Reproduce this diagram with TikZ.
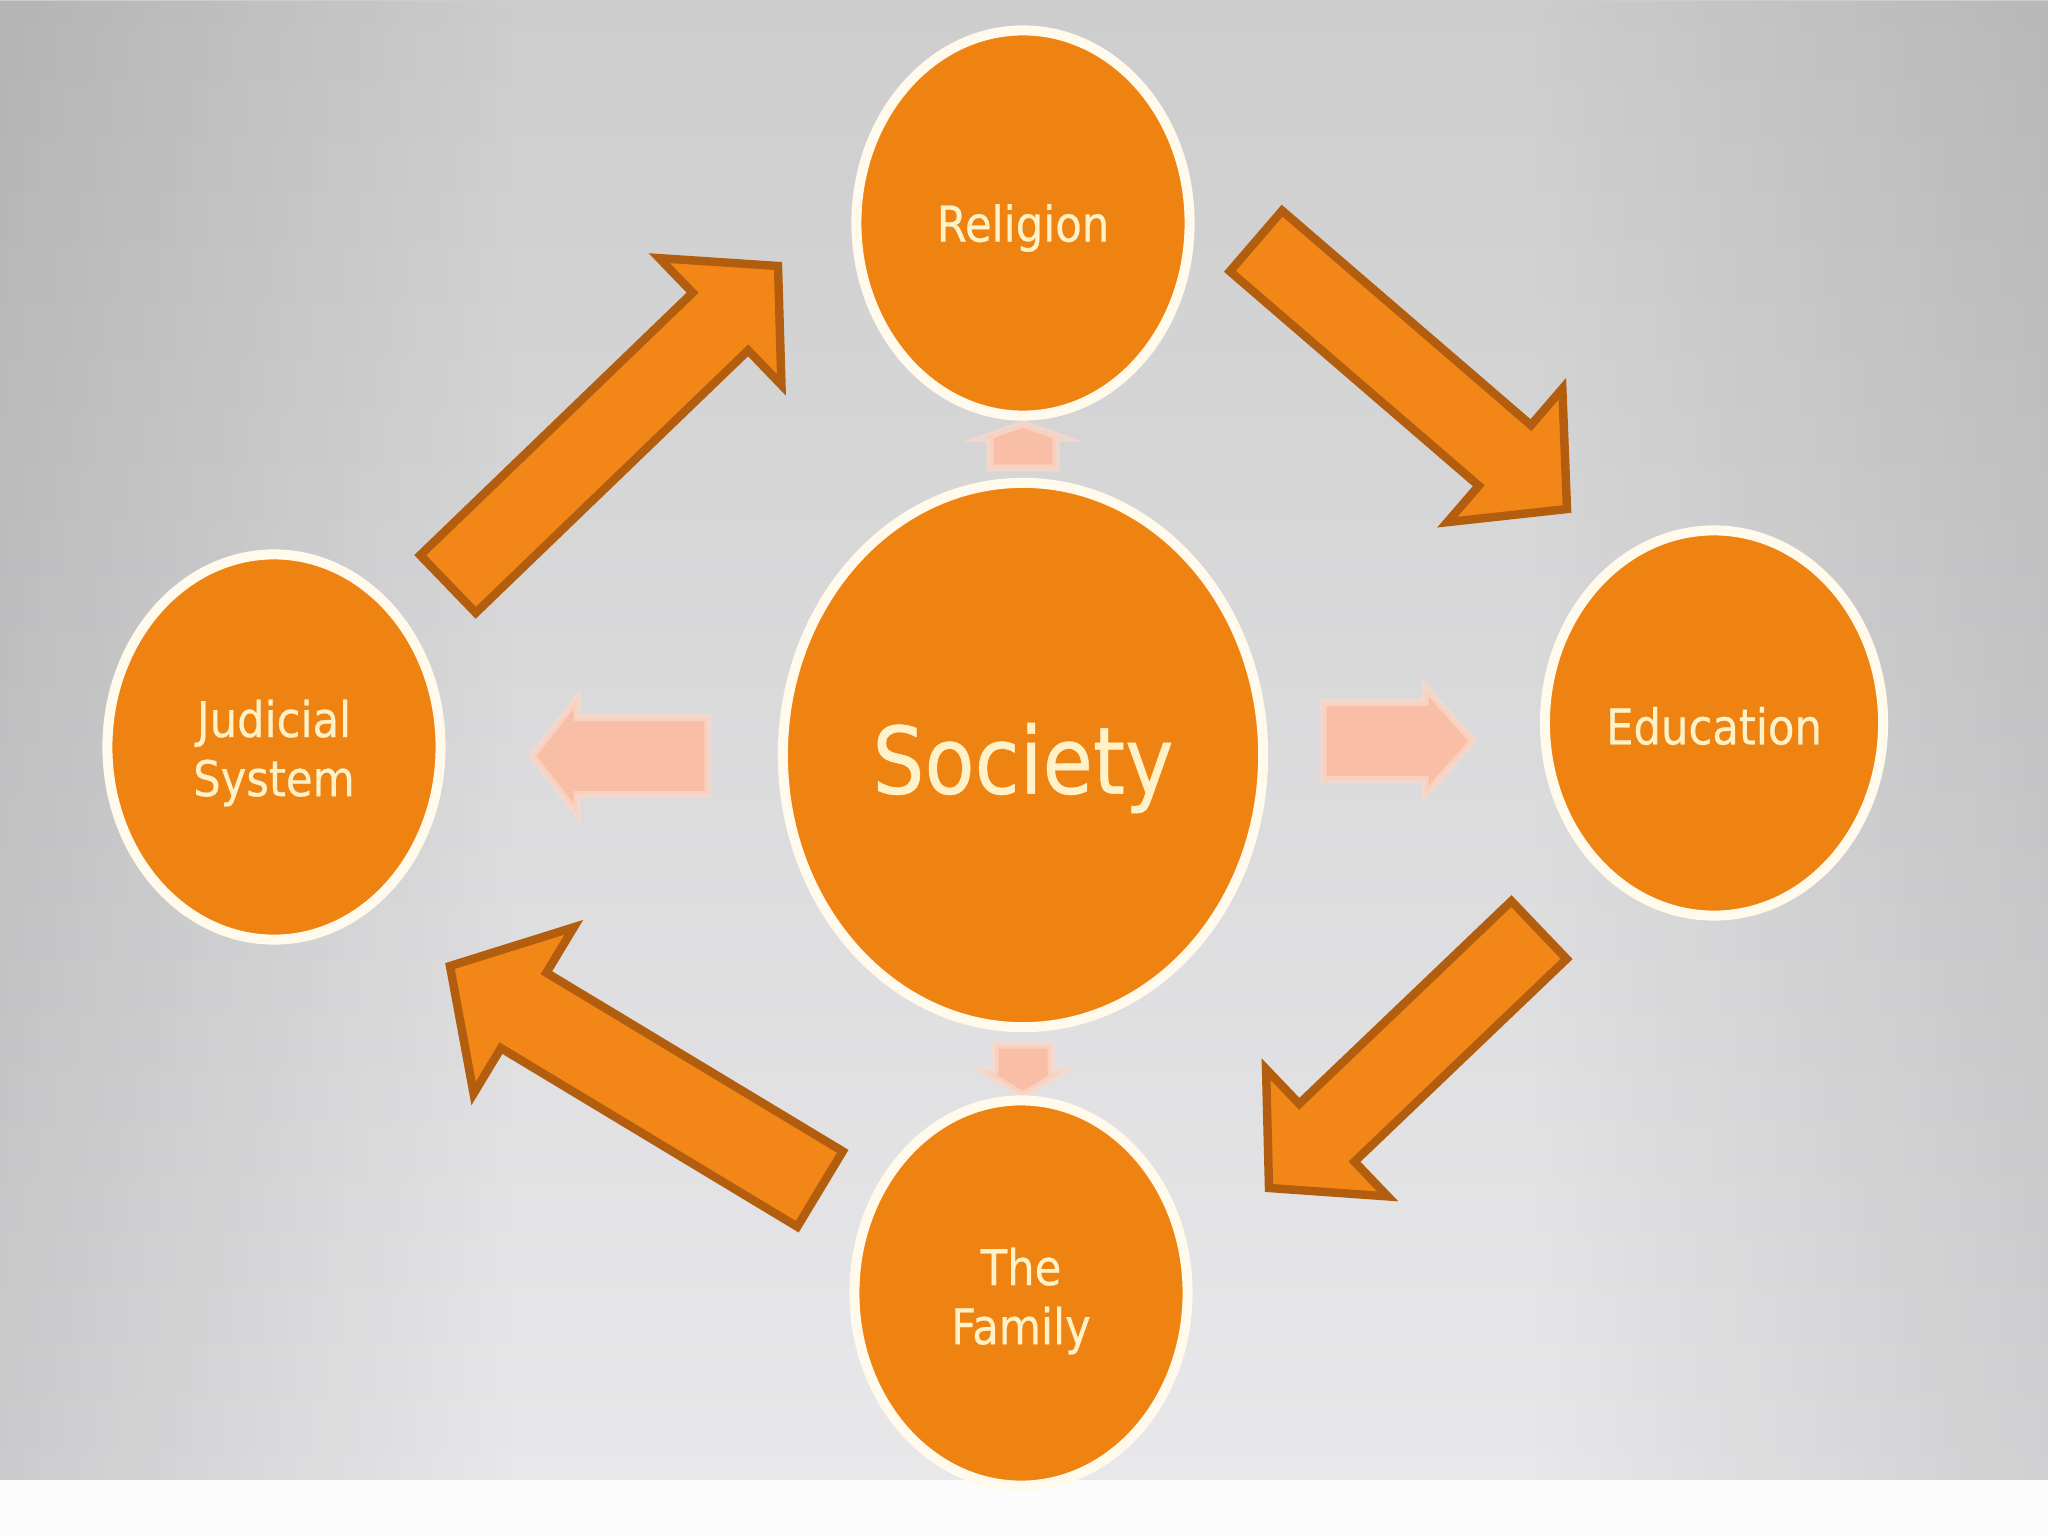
\documentclass[tikz,border=0pt]{standalone}
\usepackage{fontspec}
\newfontfamily\hubfont[FakeStretch=0.88,FakeBold=0.5]{DejaVu Sans}
\usetikzlibrary{shapes.geometric,calc,fadings}

\definecolor{bgtop}{RGB}{205,205,206}
\definecolor{bgbottom}{RGB}{232,232,234}
\definecolor{hubfill}{RGB}{239,131,17}
\definecolor{hubring}{RGB}{255,250,236}
\definecolor{hubtext}{RGB}{255,241,200}
\definecolor{flowfill}{RGB}{242,135,24}
\definecolor{flowedge}{RGB}{178,94,14}
\definecolor{softpink}{RGB}{248,190,166}

% block arrow: style, tail, tip, shaft half width, head half width, head length
\newcommand{\blockarrow}[6]{%
  \coordinate (hb) at ($(#3)!#6!(#2)$);
  \draw[#1] ($(#2)!#4!90:(#3)$) -- ($(hb)!#4!90:(#3)$) -- ($(hb)!#5!90:(#3)$)
    -- (#3) -- ($(hb)!#5!-90:(#3)$) -- ($(hb)!#4!-90:(#3)$) -- ($(#2)!#4!-90:(#3)$) -- cycle;
}
% move a line of text down, keeping its box
\newcommand{\sinktext}[2]{\raisebox{-#1}[\height][\depth]{#2}}

\begin{document}
\begin{tikzpicture}[x=0.01cm, y=-0.01cm]
    \tikzstyle{hub}=[ellipse, draw=hubring, line width=2.85pt, fill=hubfill, text=hubtext,
        minimum width=3.33cm, minimum height=3.85cm, align=center,
        font=\hubfont\fontsize{14}{16.8}\selectfont]
    \tikzstyle{flow}=[fill=flowfill, draw=flowedge, line width=2.4pt]
    \tikzstyle{soft}=[fill=softpink, draw=softpink!60!white, line width=2pt, draw opacity=0.7]

    \useasboundingbox (0,0) rectangle (2048,1536);

    % Background
    \shade[top color=bgtop, bottom color=bgbottom] (0,0) rectangle (2048,1480);
    \fill[black, fill opacity=0.12, path fading=east] (0,0) rectangle (520,1480);
    \fill[black, fill opacity=0.10, path fading=west] (1528,0) rectangle (2048,1480);
    \fill[white!98!gray] (0,1480) rectangle (2048,1536);

    % Faint arrows out of the centre
    \coordinate (lt) at (708,756);   \coordinate (lp) at (532,756);
    \coordinate (rt) at (1323,741);  \coordinate (rp) at (1473,741);
    \coordinate (ut) at (1023,468);  \coordinate (up) at (1023,424);
    \coordinate (dt) at (1023,1045); \coordinate (dp) at (1023,1095);
    \foreach \tl/\tp/\sw/\hw/\hl in {lt/lp/0.385cm/0.575cm/0.45cm, rt/rp/0.385cm/0.54cm/0.48cm,
                                     ut/up/0.33cm/0.40cm/0.14cm, dt/dp/0.28cm/0.40cm/0.24cm} {
        \blockarrow{soft}{\tl}{\tp}{\sw}{\hw}{\hl}
    }

    % Circles
    \node[hub] (religion) at (1023,223) {\sinktext{0.05cm}{Religion}};
    \node[hub] (education) at (1714,723) {\sinktext{0.03cm}{Education}};
    \node[hub] (family) at (1021,1293) {\sinktext{0.08cm}{The}\\\sinktext{0.08cm}{Family}};
    \node[hub] (judicial) at (274,747) {\sinktext{0.06cm}{Judicial}\\\sinktext{0.06cm}{System}};
    \node[hub, minimum width=4.8cm, minimum height=5.44cm,
          font=\hubfont\fontsize{26.5}{32}\selectfont] (society) at (1023,755) {\sinktext{0.13cm}{Society}};

    % Cycle arrows, clockwise from the left
    \coordinate (jr-tail) at (448,584);   \coordinate (jr-tip) at (778,266);
    \coordinate (re-tail) at (1256,241);  \coordinate (re-tip) at (1567,509);
    \coordinate (ef-tail) at (1539,930);  \coordinate (ef-tip) at (1269,1188);
    \coordinate (fj-tail) at (820,1189);  \coordinate (fj-tip) at (450,966);
    \blockarrow{flow}{jr-tail}{jr-tip}{0.40cm}{0.88cm}{0.80cm}
    \blockarrow{flow}{re-tail}{re-tip}{0.40cm}{0.88cm}{0.82cm}
    \blockarrow{flow}{ef-tail}{ef-tip}{0.40cm}{0.88cm}{0.80cm}
    \blockarrow{flow}{fj-tail}{fj-tip}{0.44cm}{0.97cm}{0.86cm}
\end{tikzpicture}
\end{document}
